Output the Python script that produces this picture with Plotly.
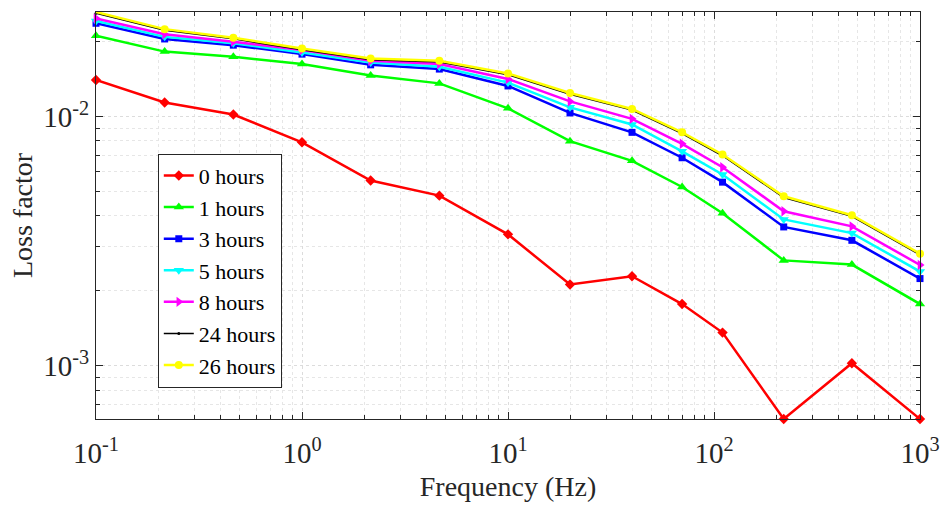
import plotly.graph_objects as go
import math

freq = [0.1, 0.2154, 0.4642, 1.0, 2.154, 4.642, 10.0, 20.0, 40.0, 70.0, 110.0, 218.0, 467.0, 1000.0]

h0 = [0.01403, 0.0114, 0.0102, 0.00789, 0.00554, 0.00482, 0.00337, 0.00212, 0.00229, 0.00177, 0.00136, 0.000612, 0.001025, 0.000612]
h1 = [0.0211, 0.01824, 0.01738, 0.01625, 0.01463, 0.0136, 0.0108, 0.00797, 0.00665, 0.00522, 0.0041, 0.00265, 0.00255, 0.00177]
h3 = [0.0237, 0.0205, 0.01936, 0.01782, 0.01614, 0.01552, 0.01328, 0.01035, 0.00865, 0.00684, 0.00546, 0.00361, 0.00319, 0.00224]
h5 = [0.0242, 0.0209, 0.0197, 0.01809, 0.01648, 0.01585, 0.0137, 0.0109, 0.0093, 0.00726, 0.00586, 0.00387, 0.00341, 0.00239]
h8 = [0.0248, 0.0214, 0.0200, 0.0185, 0.01675, 0.01625, 0.01416, 0.01151, 0.0098, 0.00778, 0.00627, 0.00417, 0.00363, 0.00254]
h24 = [0.0260, 0.0222, 0.02052, 0.01855, 0.01692, 0.01656, 0.01473, 0.01231, 0.01062, 0.00855, 0.00697, 0.00474, 0.00398, 0.00279]
h26 = [0.0263, 0.02245, 0.02075, 0.01876, 0.01711, 0.01675, 0.0149, 0.01245, 0.01074, 0.00865, 0.00705, 0.00479, 0.00402, 0.00282]

labels = ["0 hours", "1 hours", "3 hours", "5 hours", "8 hours", "24 hours", "26 hours"]
series = [h0, h1, h3, h5, h8, h24, h26]
colors = ["#ff0000", "#00ff00", "#0000ff", "#00ffff", "#ff00ff", "#000000", "#ffff00"]
symbols = ["diamond", "triangle-up", "square", "triangle-down", "triangle-right", "circle", "circle"]
msizes = [8, 9, 7, 9, 9, 3, 8]

xticks = [0.1, 1, 10, 100, 1000]
xticktext = ["10<sup>-1</sup>", "10<sup>0</sup>", "10<sup>1</sup>", "10<sup>2</sup>", "10<sup>3</sup>"]
yticks = [0.001, 0.01]
yticktext = ["10<sup>-3</sup>", "10<sup>-2</sup>"]

x_minor = [m * 10.0 ** e for e in range(-1, 3) for m in range(2, 10)]
y_minor = [m * 10.0 ** e for e in range(-4, -1) for m in range(2, 10)]

font_family = "Liberation Serif"

fig = go.Figure()
for lab, ys, c, s, ms in zip(labels, series, colors, symbols, msizes):
    fig.add_trace(go.Scatter(
        x=freq, y=ys, mode="lines+markers", cliponaxis=False, name=lab,
        line=dict(color=c, width=2.5 if c != "#000000" else 1.5),
        marker=dict(symbol=s, size=ms, color=c, line=dict(width=0)),
    ))

ymin = min(min(s) for s in series)
ymax = max(max(s) for s in series)


def axis_common(minor_vals):
    return dict(
        showline=True, linecolor="#262626", linewidth=1, mirror="ticks",
        ticks="inside", ticklen=7, tickcolor="#262626",
        showgrid=True, gridcolor="#dcdcdc", griddash="dot", gridwidth=1,
        zeroline=False, automargin=False,
        tickfont=dict(family=font_family, size=29, color="#262626"),
        minor=dict(tickvals=minor_vals, ticks="inside", ticklen=4, tickcolor="#262626",
                   showgrid=True, gridcolor="#e6e6e6", griddash="dot", gridwidth=1),
    )


fig.update_layout(
    width=940, height=505,
    margin=dict(l=96, r=20, t=12, b=86),
    paper_bgcolor="white", plot_bgcolor="white",
    font=dict(family=font_family, color="#262626"),
    xaxis=dict(type="log", range=[-1, 3], tickvals=xticks, ticktext=xticktext,
               ticklabelstandoff=8,
               title=dict(text="Frequency (Hz)", font=dict(family=font_family, size=28, color="#262626"), standoff=8),
               **axis_common(x_minor)),
    yaxis=dict(type="log", range=[math.log10(ymin), math.log10(ymax)], tickvals=yticks, ticktext=yticktext,
               title=dict(text="Loss factor", font=dict(family=font_family, size=28, color="#262626"), standoff=2),
               **axis_common(y_minor)),
    legend=dict(x=0.075, y=0.652, xanchor="left", yanchor="top",
                bgcolor="white", bordercolor="#262626", borderwidth=1,
                font=dict(family=font_family, size=22, color="#000000"),
                itemwidth=30, tracegroupgap=0),
    showlegend=True,
)

fig.write_html("out.html")
